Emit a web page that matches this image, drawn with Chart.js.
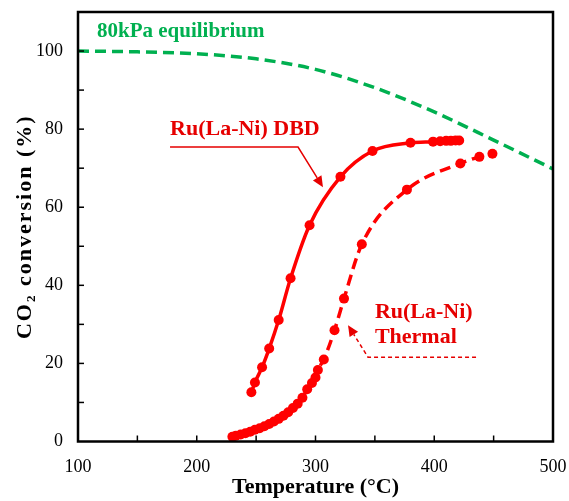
<!DOCTYPE html>
<html>
<head>
<meta charset="utf-8">
<script src="https://cdn.jsdelivr.net/npm/chart.js@4.4.0/dist/chart.umd.min.js"></script>
<style>
  html, body { margin: 0; padding: 0; background: #fff; }
  #wrap { width: 569px; height: 501px; }
</style>
</head>
<body>
<div id="wrap"><canvas id="conv" width="569" height="501"></canvas></div>
<script>
// Ru(La-Ni) plasma (DBD) run
var dbdTemp = [246, 249, 255, 261, 269, 279, 295, 321, 348, 380, 399, 405, 410, 414, 418, 421];
var dbdConv = [12.6, 15.1, 19.0, 23.8, 31.1, 41.8, 55.4, 67.8, 74.4, 76.5, 76.8, 76.9, 77.0, 77.0, 77.1, 77.1];

// Ru(La-Ni) thermal run
var thermalTemp = [230, 233, 237, 241, 245, 249, 253, 257, 261, 265, 269, 273, 277, 281, 285, 289, 293, 297, 300, 302, 307, 316, 324, 339, 377, 422, 438, 449];
var thermalConv = [1.2, 1.5, 1.8, 2.1, 2.5, 3.0, 3.4, 3.9, 4.5, 5.1, 5.8, 6.6, 7.5, 8.6, 9.7, 11.2, 13.4, 15.0, 16.4, 18.3, 21.0, 28.5, 36.6, 50.5, 64.5, 71.2, 72.9, 73.7];

// equilibrium conversion at 80 kPa
var eqTemp = [100, 150, 200, 250, 300, 350, 400, 450, 500];
var eqConv = [100, 99.8, 99.3, 98.0, 95.3, 90.6, 84.4, 77.2, 69.8];

var xTicks = [100, 200, 300, 400, 500];
var yTicks = [0, 20, 40, 60, 80, 100];

var RED = '#ff0000';
var TXTRED = '#e60000';
var GREEN = '#00b050';
var SERIF = "'Liberation Serif', 'Times New Roman', serif";

function pts(xs, ys) {
  return xs.map(function(x, i) { return { x: x, y: ys[i] }; });
}

// frame, inward ticks, y title and the callout labels
var decor = {
  id: 'decor',
  afterDraw: function(chart) {
    var ctx = chart.ctx;
    var a = chart.chartArea;
    var xs = chart.scales.x, ys = chart.scales.y;
    var px = function(v) { return xs.getPixelForValue(v); };
    var py = function(v) { return ys.getPixelForValue(v); };

    ctx.save();
    ctx.strokeStyle = '#000';
    ctx.lineWidth = 1.5;
    for (var t = 150; t < 500; t += 50) {
      ctx.beginPath();
      ctx.moveTo(px(t), a.bottom);
      ctx.lineTo(px(t), a.bottom - 6);
      ctx.stroke();
    }
    for (var v = 10; v <= 100; v += 10) {
      ctx.beginPath();
      ctx.moveTo(a.left, py(v));
      ctx.lineTo(a.left + 6, py(v));
      ctx.stroke();
    }
    ctx.lineWidth = 2.5;
    ctx.strokeRect(a.left, a.top, a.right - a.left, a.bottom - a.top);

    // y axis title, slightly spaced out
    ctx.save();
    ctx.translate(25, (a.top + a.bottom) / 2);
    ctx.rotate(-Math.PI / 2);
    ctx.font = 'bold 22px ' + SERIF;
    ctx.letterSpacing = '2px';
    ctx.fillStyle = '#000';
    ctx.textAlign = 'center';
    ctx.textBaseline = 'middle';
    ctx.fillText('CO₂ conversion (%)', 0, 0);
    ctx.restore();

    ctx.font = 'bold 21px ' + SERIF;
    ctx.textBaseline = 'middle';
    ctx.textAlign = 'left';
    ctx.fillStyle = GREEN;
    ctx.fillText('80kPa equilibrium', px(116), py(105));

    ctx.font = 'bold 22px ' + SERIF;
    ctx.fillStyle = TXTRED;
    ctx.fillText('Ru(La-Ni) DBD', px(177.5), py(80));
    ctx.fillText('Ru(La-Ni)', px(350), py(33.2));
    ctx.fillText('Thermal', px(350), py(26.6));

    // DBD leader with arrow
    ctx.strokeStyle = TXTRED;
    ctx.fillStyle = TXTRED;
    ctx.lineWidth = 1.5;
    arrow(ctx, [[px(177.5), py(75.4)], [px(285.3), py(75.4)], [px(306.3), py(65.1)]], []);
    // thermal leader, dashed
    arrow(ctx, [[px(435.2), py(21.6)], [px(344.2), py(21.6)], [px(327.4), py(29.8)]], [4, 3]);
    ctx.restore();
  }
};

function arrow(ctx, p, dash) {
  var n = p.length;
  var tip = p[n - 1], prev = p[n - 2];
  var ang = Math.atan2(tip[1] - prev[1], tip[0] - prev[0]);
  var L = 11, W = 5;
  var bx = tip[0] - L * Math.cos(ang), by = tip[1] - L * Math.sin(ang);
  ctx.setLineDash(dash);
  ctx.beginPath();
  ctx.moveTo(p[0][0], p[0][1]);
  for (var i = 1; i < n - 1; i++) ctx.lineTo(p[i][0], p[i][1]);
  ctx.lineTo(bx, by);
  ctx.stroke();
  ctx.setLineDash([]);
  ctx.beginPath();
  ctx.moveTo(tip[0], tip[1]);
  ctx.lineTo(bx + W * Math.sin(ang), by - W * Math.cos(ang));
  ctx.lineTo(bx - W * Math.sin(ang), by + W * Math.cos(ang));
  ctx.closePath();
  ctx.fill();
}

new Chart(document.getElementById('conv'), {
  type: 'scatter',
  data: {
    datasets: [
      {
        label: '80kPa equilibrium',
        data: pts(eqTemp, eqConv),
        showLine: true,
        borderColor: GREEN,
        borderWidth: 3.5,
        borderDash: [11, 6],
        pointRadius: 0,
        cubicInterpolationMode: 'monotone'
      },
      {
        label: 'Ru(La-Ni) Thermal',
        data: pts(thermalTemp, thermalConv),
        showLine: true,
        borderColor: RED,
        backgroundColor: RED,
        borderWidth: 3.5,
        borderDash: [11, 6],
        pointRadius: 5,
        pointBorderWidth: 0,
        cubicInterpolationMode: 'monotone'
      },
      {
        label: 'Ru(La-Ni) DBD',
        data: pts(dbdTemp, dbdConv),
        showLine: true,
        borderColor: RED,
        backgroundColor: RED,
        borderWidth: 3.5,
        pointRadius: 5,
        pointBorderWidth: 0,
        cubicInterpolationMode: 'monotone'
      }
    ]
  },
  options: {
    responsive: false,
    animation: false,
    layout: { padding: { top: 12, right: 16, left: 0, bottom: 0 } },
    plugins: { legend: { display: false }, tooltip: { enabled: false } },
    scales: {
      x: {
        type: 'linear',
        min: 100,
        max: 500,
        grid: { display: false, drawTicks: false },
        border: { display: false },
        afterBuildTicks: function(s) { s.ticks = xTicks.map(function(v) { return { value: v }; }); },
        afterFit: function(s) { s.height = 59.5; s.paddingLeft = 0; s.paddingRight = 0; },
        ticks: { color: '#000', padding: 15, font: { family: SERIF, size: 18 }, maxRotation: 0 },
        title: {
          display: true,
          text: 'Temperature (°C)',
          color: '#000',
          font: { family: SERIF, size: 22, weight: 'bold' },
          padding: { top: 0, bottom: 0 }
        }
      },
      y: {
        min: 0,
        max: 110,
        grid: { display: false, drawTicks: false },
        border: { display: false },
        afterBuildTicks: function(s) { s.ticks = yTicks.map(function(v) { return { value: v }; }); },
        afterFit: function(s) { s.width = 78; s.paddingTop = 0; s.paddingBottom = 0; },
        ticks: { color: '#000', padding: 15, font: { family: SERIF, size: 18 } }
      }
    }
  },
  plugins: [decor]
});
</script>
</body>
</html>
